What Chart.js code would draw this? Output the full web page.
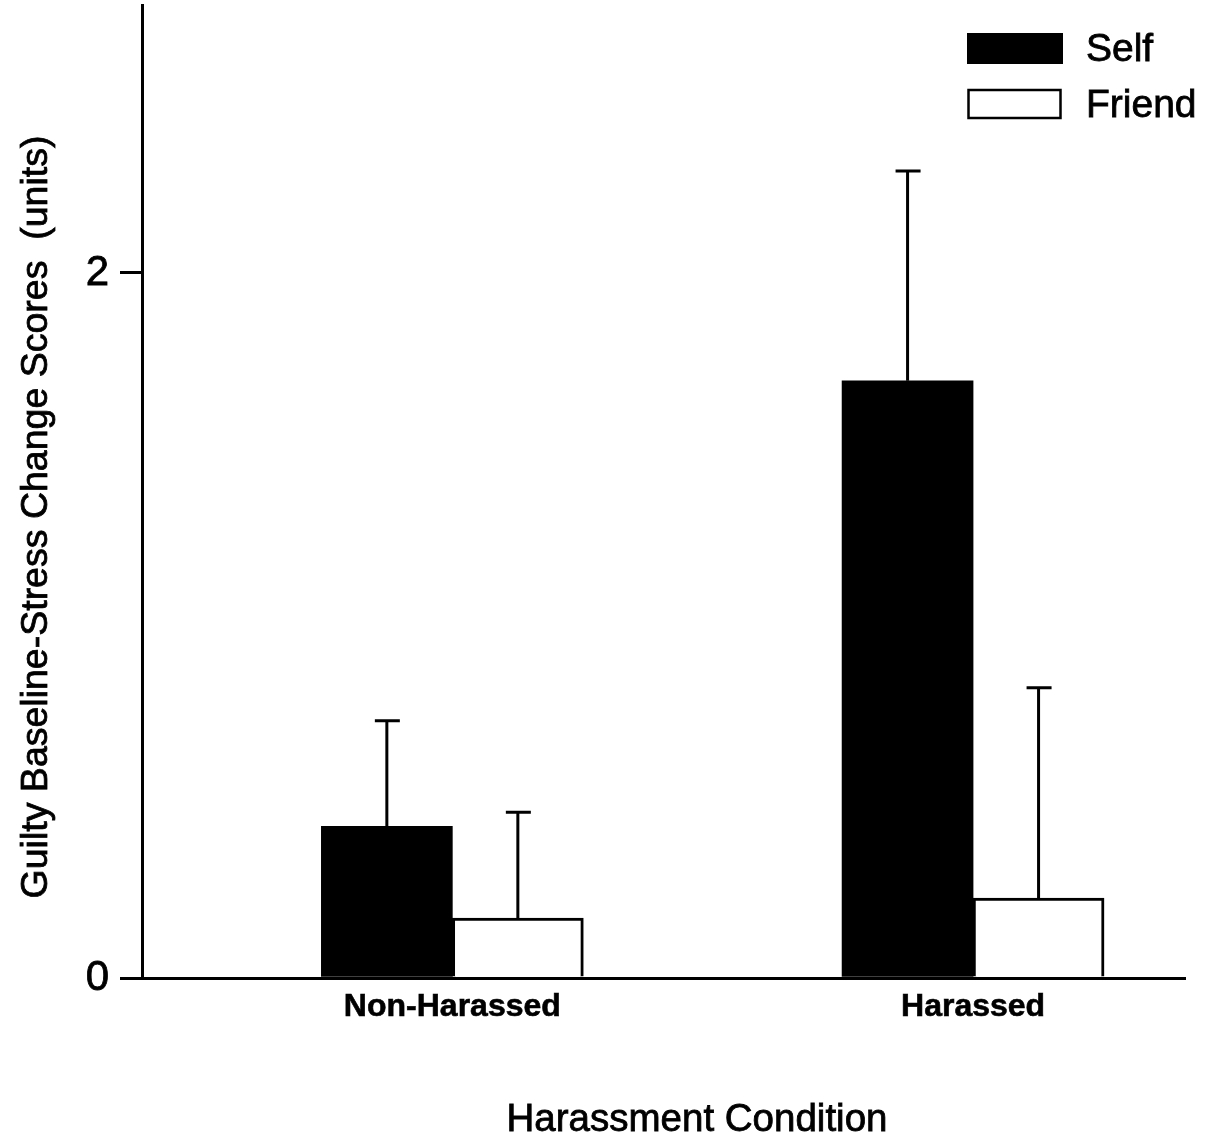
<!DOCTYPE html>
<html>
<head>
<meta charset="utf-8">
<script src="https://cdn.jsdelivr.net/npm/chart.js@4.4.1/dist/chart.umd.min.js"></script>
<style>
  html, body { margin: 0; padding: 0; background: #fff; }
  #wrap { width: 1217px; height: 1148px; }
</style>
</head>
<body>
<div id="wrap"><canvas id="guiltChart"></canvas></div>
<script>
// Guilty baseline-stress change scores, by harassment condition

const categories = ['Non-Harassed', 'Harassed'];
const seriesNames = ['Self', 'Friend'];
const selfMeans = [0.43, 1.694];
const selfErrors = [0.30, 0.595];
const friendMeans = [0.17, 0.227];
const friendErrors = [0.30, 0.596];
const yTicks = [0, 2];
const xTitle = 'Harassment Condition';
const yTitle = 'Guilty Baseline-Stress Change Scores  (units)';

const FONT = "'Liberation Sans', Arial, sans-serif";
Chart.defaults.font.family = FONT;
Chart.defaults.color = '#000';

// one-sided (upper) error bars with a small cap
const errorBars = {
    id: 'errorBars',
    afterDatasetsDraw(chart) {
        const ctx = chart.ctx;
        const yScale = chart.scales.y;
        ctx.save();
        ctx.strokeStyle = '#000';
        ctx.lineWidth = 3;
        chart.data.datasets.forEach((ds, di) => {
            const meta = chart.getDatasetMeta(di);
            meta.data.forEach((bar, i) => {
                const v = ds.data[i].y;
                const top = yScale.getPixelForValue(v + ds.errors[i]);
                ctx.beginPath();
                ctx.moveTo(bar.x, bar.y);
                ctx.lineTo(bar.x, top);
                ctx.moveTo(bar.x - 12, top);
                ctx.lineTo(bar.x + 13, top);
                ctx.stroke();
            });
        });
        ctx.restore();
    }
};

// slightly heavy text, like the scanned original
function heavyText(ctx, text, x, y) {
    ctx.strokeText(text, x, y);
    ctx.fillText(text, x, y);
}

// legend in the top right corner, boxes stacked; axis titles placed by hand
const decorations = {
    id: 'decorations',
    afterDraw(chart) {
        const ctx = chart.ctx;
        ctx.save();
        ctx.textBaseline = 'middle';
        ctx.fillStyle = '#000';
        ctx.strokeStyle = '#000';

        ctx.font = '39px ' + FONT;
        chart.data.datasets.forEach((ds, i) => {
            const y = 33 + i * 56;
            ctx.fillStyle = ds.backgroundColor;
            ctx.fillRect(967, y, 96, 31);
            if (ds.borderWidth) {
                ctx.lineWidth = 2.5;
                ctx.strokeRect(968.5, y + 1, 92, 28);
            }
            ctx.fillStyle = '#000';
            ctx.lineWidth = 0.8;
            ctx.textAlign = 'left';
            heavyText(ctx, ds.label, 1086, y + 17);
        });

        ctx.lineWidth = 0.8;
        ctx.textAlign = 'center';
        ctx.font = '38.5px ' + FONT;
        heavyText(ctx, xTitle, 697, 1120);

        ctx.font = '37.5px ' + FONT;
        ctx.translate(37, 517);
        ctx.rotate(-Math.PI / 2);
        heavyText(ctx, yTitle, 0, 0);
        ctx.restore();
    }
};

const toPoints = (vals) => vals.map((v, i) => ({ x: i + 1, y: v }));

new Chart(document.getElementById('guiltChart'), {
    type: 'bar',
    data: {
        datasets: [
            {
                label: seriesNames[0],
                data: toPoints(selfMeans),
                errors: selfErrors,
                backgroundColor: '#000',
                borderWidth: 0,
                barThickness: 131
            },
            {
                label: seriesNames[1],
                data: toPoints(friendMeans),
                errors: friendErrors,
                backgroundColor: '#fff',
                borderColor: '#000',
                borderWidth: 3,
                barThickness: 131
            }
        ]
    },
    options: {
        responsive: true,
        maintainAspectRatio: false,
        animation: false,
        layout: { padding: { top: 5, right: 32, bottom: 0, left: 0 } },
        plugins: {
            legend: { display: false },
            tooltip: { enabled: false }
        },
        scales: {
            x: {
                type: 'linear',
                min: 0.404,
                max: 2.407,
                offset: false,
                grid: { display: false, drawTicks: false },
                border: { display: true, color: '#000', width: 3 },
                afterBuildTicks: (axis) => {
                    axis.ticks = categories.map((c, i) => ({ value: i + 1 }));
                },
                afterFit: (axis) => { axis.height = 170; },
                ticks: {
                    padding: 10,
                    font: { size: 32, weight: 'bold' },
                    textStrokeColor: '#000',
                    textStrokeWidth: 0.6,
                    callback: (v) => categories[v - 1]
                }
            },
            y: {
                min: 0,
                max: 2.76,
                grid: {
                    drawOnChartArea: false,
                    drawTicks: true,
                    tickLength: 22,
                    color: '#000',
                    lineWidth: 3
                },
                border: { display: true, color: '#000', width: 3 },
                afterBuildTicks: (axis) => {
                    axis.ticks = yTicks.map(v => ({ value: v }));
                },
                afterFit: (axis) => {
                    axis.width = 142;
                    axis.paddingTop = 0;
                    axis.paddingBottom = 0;
                },
                ticks: {
                    padding: 11,
                    font: { size: 42 },
                    textStrokeColor: '#000',
                    textStrokeWidth: 0.8,
                    callback: (v) => String(v)
                }
            }
        }
    },
    plugins: [errorBars, decorations]
});
</script>
</body>
</html>
